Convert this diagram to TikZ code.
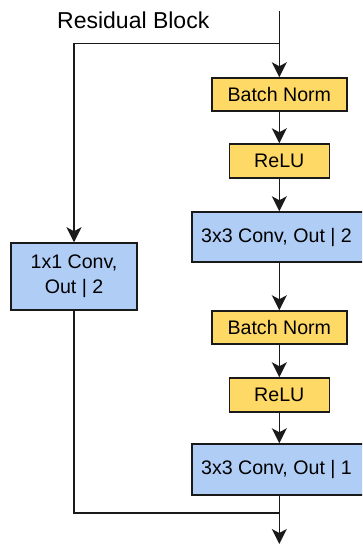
\documentclass[tikz,border=0pt]{standalone}
\usepackage{fontspec}
\setmainfont{Liberation Sans}
\usetikzlibrary{arrows.meta}
\definecolor{normfill}{HTML}{FFD966}
\definecolor{convfill}{HTML}{B0CDF6}
\definecolor{edge}{HTML}{1A1A1A}
\tikzset{
  layer/.style={draw=edge, line width=1.5pt, inner sep=0pt, align=center,
    font=\fontsize{19.6}{23}\selectfont, text=black},
  normbox/.style={layer, fill=normfill},
  convbox/.style={layer, fill=convfill},
  flow/.style={draw=edge, line width=1.6pt},
  arrow/.style={flow, -{Stealth[length=15pt,width=15pt,inset=4pt]}},
}
\begin{document}
\begin{tikzpicture}[x=1pt,y=-1pt]
\useasboundingbox (0,0) rectangle (362,544);
\clip (0,0) rectangle (362,544);
\node[font=\fontsize{23}{27}\selectfont, anchor=west, inner sep=0pt] (title) at (57,20.5) {Residual Block};

\coordinate (in) at (279.3,11);
\coordinate (split) at (279.3,43.5);
\coordinate (splitL) at (74,43.5);
\coordinate (joinL) at (74,513);
\coordinate (join) at (279.3,513);
\coordinate (out) at (279.3,544);

\node[normbox, minimum width=135, minimum height=33] (bn1) at (279.3,94.5) {Batch Norm};
\node[normbox, minimum width=100, minimum height=34] (relu1) at (279.3,161) {ReLU};
\node[convbox, minimum width=175, minimum height=50, anchor=west] (conv2) at (191,237) {};
\node at (276.5,237) (conv2t) [font=\fontsize{19.6}{23}\selectfont] {3x3 Conv, Out | 2};
\node[normbox, minimum width=135, minimum height=33] (bn2) at (279.3,327.5) {Batch Norm};
\node[normbox, minimum width=100, minimum height=34] (relu2) at (279.3,395) {ReLU};
\node[convbox, minimum width=175, minimum height=51, anchor=west] (conv1) at (191,469.5) {};
\node at (276.5,469.5) (conv1t) [font=\fontsize{19.6}{23}\selectfont] {3x3 Conv, Out | 1};
\node[convbox, minimum width=126, minimum height=67] (skip) at (74,276.5) {1x1 Conv,\\[2pt]Out | 2};

% main path
\draw[arrow] (in) -- (bn1);
\draw[arrow] (bn1) -- (relu1);
\draw[arrow] (relu1) -- (relu1 |- conv2.north);
\draw[arrow] (relu1 |- conv2.south) -- (bn2);
\draw[arrow] (bn2) -- (relu2);
\draw[arrow] (relu2) -- (relu2 |- conv1.north);
\draw[arrow] (relu2 |- conv1.south) -- (out);

% shortcut path
\draw[arrow] (split) -- (splitL) -- (skip);
\draw[flow] (skip) -- (joinL) -- (join);
\end{tikzpicture}
\end{document}
